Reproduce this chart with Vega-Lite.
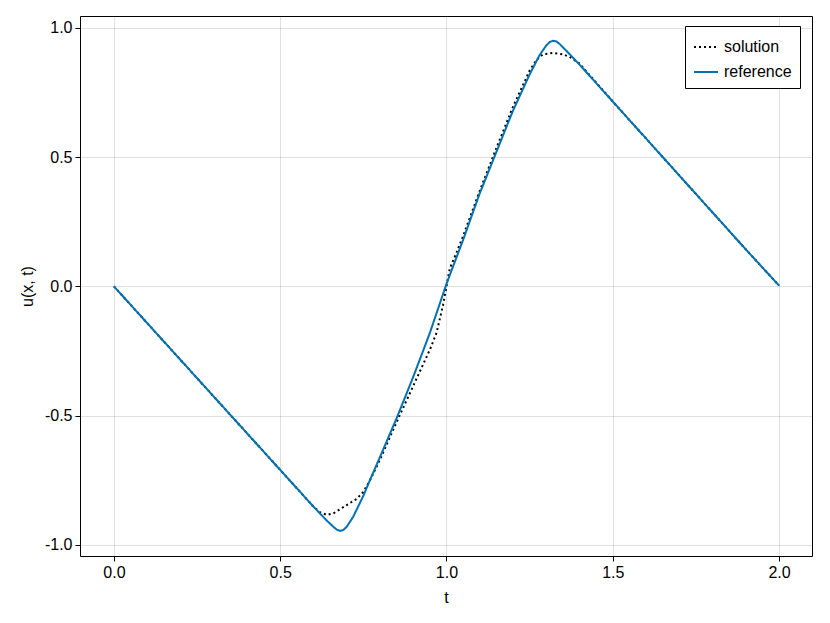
{
  "$schema": "https://vega.github.io/schema/vega-lite/v6.json",
  "width": 732,
  "height": 540,
  "autosize": {"type": "none"},
  "padding": {"left": 80, "top": 16, "right": 18, "bottom": 67},
  "background": "white",
  "config": {
    "font": "Liberation Sans",
    "view": {"stroke": "black", "strokeWidth": 1},
    "axis": {
      "domain": false,
      "grid": true,
      "gridColor": "#000000",
      "gridOpacity": 0.12,
      "gridWidth": 1,
      "tickColor": "black",
      "tickSize": 5,
      "tickWidth": 1,
      "labelFontSize": 16,
      "labelColor": "black",
      "labelPadding": 3,
      "titleFontSize": 16,
      "titleFontWeight": "normal",
      "titleColor": "black"
    },
    "legend": {
      "labelFontSize": 16,
      "labelColor": "black"
    }
  },
  "data": {
    "values": [
      {"t": 0.0, "u": 0.0, "series": "solution"},
      {"t": 0.1, "u": -0.142, "series": "solution"},
      {"t": 0.2, "u": -0.284, "series": "solution"},
      {"t": 0.3, "u": -0.426, "series": "solution"},
      {"t": 0.4, "u": -0.568, "series": "solution"},
      {"t": 0.5, "u": -0.71, "series": "solution"},
      {"t": 0.55, "u": -0.781, "series": "solution"},
      {"t": 0.6, "u": -0.852, "series": "solution"},
      {"t": 0.62, "u": -0.874, "series": "solution"},
      {"t": 0.64, "u": -0.884, "series": "solution"},
      {"t": 0.66, "u": -0.878, "series": "solution"},
      {"t": 0.68, "u": -0.862, "series": "solution"},
      {"t": 0.7, "u": -0.846, "series": "solution"},
      {"t": 0.73, "u": -0.822, "series": "solution"},
      {"t": 0.75, "u": -0.795, "series": "solution"},
      {"t": 0.77, "u": -0.75, "series": "solution"},
      {"t": 0.8, "u": -0.67, "series": "solution"},
      {"t": 0.85, "u": -0.525, "series": "solution"},
      {"t": 0.9, "u": -0.385, "series": "solution"},
      {"t": 0.95, "u": -0.245, "series": "solution"},
      {"t": 0.97, "u": -0.18, "series": "solution"},
      {"t": 0.99, "u": -0.07, "series": "solution"},
      {"t": 1.0, "u": 0.0, "series": "solution"},
      {"t": 1.01, "u": 0.07, "series": "solution"},
      {"t": 1.03, "u": 0.13, "series": "solution"},
      {"t": 1.05, "u": 0.195, "series": "solution"},
      {"t": 1.1, "u": 0.37, "series": "solution"},
      {"t": 1.15, "u": 0.535, "series": "solution"},
      {"t": 1.2, "u": 0.695, "series": "solution"},
      {"t": 1.25, "u": 0.835, "series": "solution"},
      {"t": 1.27, "u": 0.875, "series": "solution"},
      {"t": 1.29, "u": 0.898, "series": "solution"},
      {"t": 1.32, "u": 0.903, "series": "solution"},
      {"t": 1.35, "u": 0.898, "series": "solution"},
      {"t": 1.37, "u": 0.888, "series": "solution"},
      {"t": 1.4, "u": 0.862, "series": "solution"},
      {"t": 1.42, "u": 0.832, "series": "solution"},
      {"t": 1.5, "u": 0.715, "series": "solution"},
      {"t": 1.6, "u": 0.572, "series": "solution"},
      {"t": 1.7, "u": 0.429, "series": "solution"},
      {"t": 1.8, "u": 0.286, "series": "solution"},
      {"t": 1.9, "u": 0.143, "series": "solution"},
      {"t": 2.0, "u": 0.003, "series": "solution"},
      {"t": 0.0, "u": 0.0, "series": "reference"},
      {"t": 0.1, "u": -0.142, "series": "reference"},
      {"t": 0.2, "u": -0.284, "series": "reference"},
      {"t": 0.3, "u": -0.426, "series": "reference"},
      {"t": 0.4, "u": -0.568, "series": "reference"},
      {"t": 0.5, "u": -0.71, "series": "reference"},
      {"t": 0.55, "u": -0.781, "series": "reference"},
      {"t": 0.6, "u": -0.852, "series": "reference"},
      {"t": 0.62, "u": -0.879, "series": "reference"},
      {"t": 0.64, "u": -0.906, "series": "reference"},
      {"t": 0.66, "u": -0.93, "series": "reference"},
      {"t": 0.67, "u": -0.941, "series": "reference"},
      {"t": 0.68, "u": -0.946, "series": "reference"},
      {"t": 0.69, "u": -0.942, "series": "reference"},
      {"t": 0.7, "u": -0.93, "series": "reference"},
      {"t": 0.72, "u": -0.89, "series": "reference"},
      {"t": 0.75, "u": -0.81, "series": "reference"},
      {"t": 0.77, "u": -0.749, "series": "reference"},
      {"t": 0.8, "u": -0.66, "series": "reference"},
      {"t": 0.85, "u": -0.51, "series": "reference"},
      {"t": 0.9, "u": -0.35, "series": "reference"},
      {"t": 0.95, "u": -0.18, "series": "reference"},
      {"t": 1.0, "u": 0.01, "series": "reference"},
      {"t": 1.05, "u": 0.18, "series": "reference"},
      {"t": 1.1, "u": 0.36, "series": "reference"},
      {"t": 1.15, "u": 0.52, "series": "reference"},
      {"t": 1.2, "u": 0.68, "series": "reference"},
      {"t": 1.25, "u": 0.82, "series": "reference"},
      {"t": 1.28, "u": 0.895, "series": "reference"},
      {"t": 1.3, "u": 0.932, "series": "reference"},
      {"t": 1.31, "u": 0.945, "series": "reference"},
      {"t": 1.32, "u": 0.95, "series": "reference"},
      {"t": 1.33, "u": 0.948, "series": "reference"},
      {"t": 1.34, "u": 0.938, "series": "reference"},
      {"t": 1.36, "u": 0.912, "series": "reference"},
      {"t": 1.38, "u": 0.885, "series": "reference"},
      {"t": 1.4, "u": 0.858, "series": "reference"},
      {"t": 1.5, "u": 0.715, "series": "reference"},
      {"t": 1.6, "u": 0.572, "series": "reference"},
      {"t": 1.7, "u": 0.429, "series": "reference"},
      {"t": 1.8, "u": 0.286, "series": "reference"},
      {"t": 1.9, "u": 0.143, "series": "reference"},
      {"t": 2.0, "u": 0.003, "series": "reference"}
    ]
  },
  "mark": {"type": "line", "strokeWidth": 2, "clip": true},
  "encoding": {
    "x": {
      "field": "t",
      "type": "quantitative",
      "scale": {"domain": [-0.102, 2.099], "nice": false, "zero": false},
      "axis": {"values": [0, 0.5, 1, 1.5, 2], "format": ".1f", "title": "t", "titlePadding": 9}
    },
    "y": {
      "field": "u",
      "type": "quantitative",
      "scale": {"domain": [-1.043, 1.046], "nice": false, "zero": false},
      "axis": {
        "values": [-1, -0.5, 0, 0.5, 1],
        "labelExpr": "replace(format(datum.value, '.1f'), '\u2212', '-')",
        "title": "u(x, t)",
        "titlePadding": 9
      }
    },
    "color": {
      "field": "series",
      "type": "nominal",
      "scale": {"domain": ["solution", "reference"], "range": ["black", "#0072B2"]},
      "legend": {
        "title": null,
        "orient": "none",
        "legendX": 605,
        "legendY": 10,
        "strokeColor": "black",
        "fillColor": "white",
        "padding": 8,
        "rowPadding": 4,
        "symbolType": "stroke",
        "symbolSize": 576,
        "symbolStrokeWidth": 2,
        "labelOffset": 5,
        "cornerRadius": 0
      }
    },
    "strokeDash": {
      "field": "series",
      "type": "nominal",
      "scale": {"domain": ["solution", "reference"], "range": [[2, 3], [1, 0]]},
      "legend": {
        "title": null,
        "orient": "none",
        "legendX": 605,
        "legendY": 10,
        "strokeColor": "black",
        "fillColor": "white",
        "padding": 8,
        "rowPadding": 4,
        "symbolType": "stroke",
        "symbolSize": 576,
        "symbolStrokeWidth": 2,
        "labelOffset": 5,
        "cornerRadius": 0
      }
    }
  }
}
